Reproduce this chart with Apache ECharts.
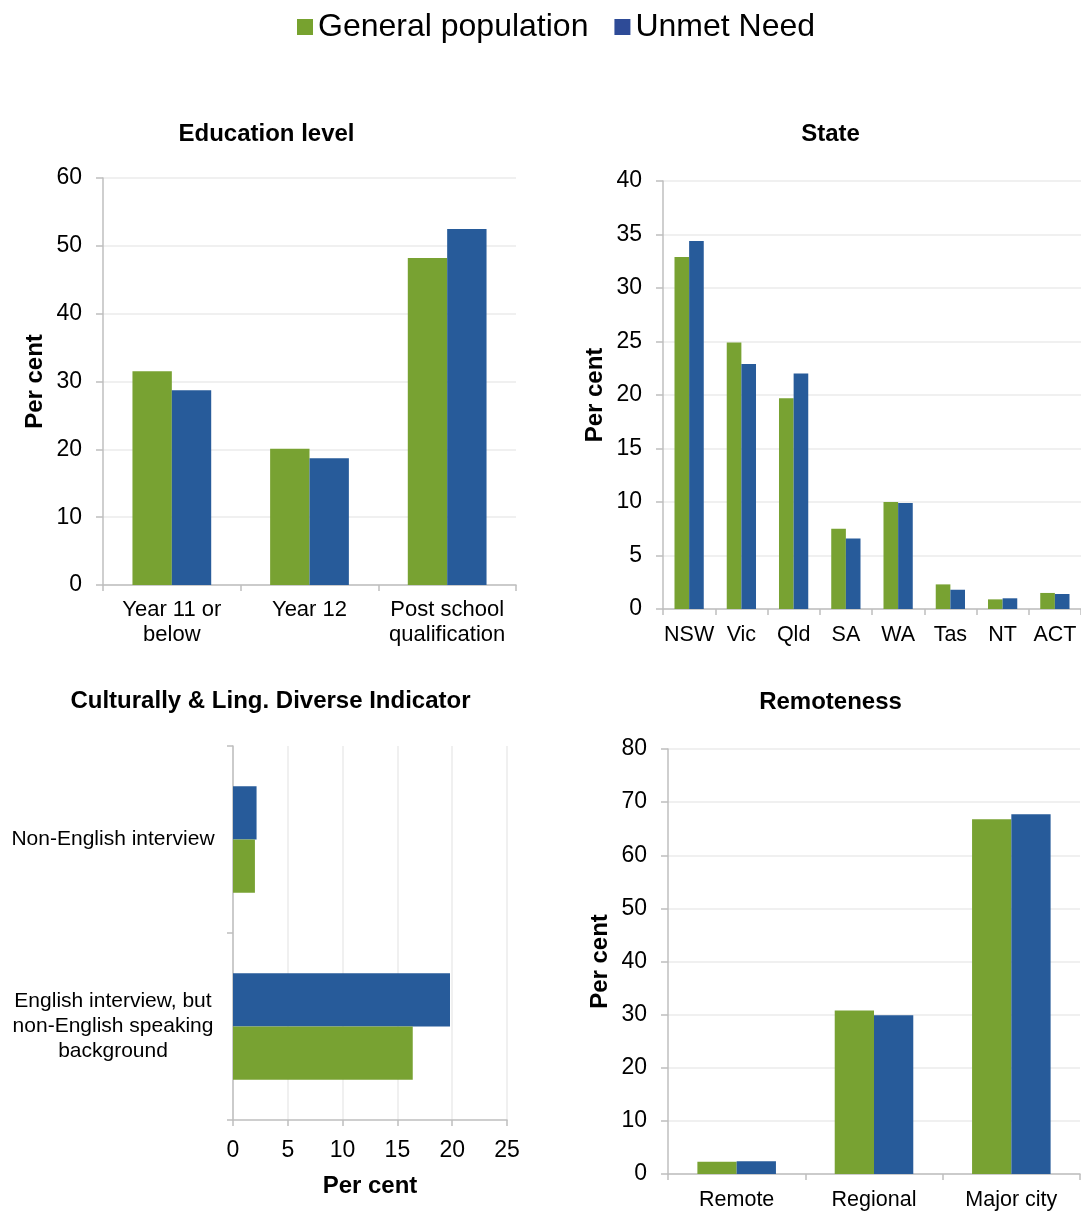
<!DOCTYPE html>
<html>
<head>
<meta charset="utf-8">
<script src="https://cdn.jsdelivr.net/npm/echarts@6/dist/echarts.min.js"></script>
<style>
  html, body { margin: 0; padding: 0; background: #ffffff; }
  #chart { width: 1081px; height: 1213px; }
</style>
</head>
<body>
<div id="chart"></div>
<script>
// Series names
const seriesNames = ['General population', 'Unmet Need'];

// Education level
const educationCats = ['Year 11 or\nbelow', 'Year 12', 'Post school\nqualification'];
const educationGeneral = [31.5, 20.1, 48.2];
const educationUnmet = [28.7, 18.7, 52.5];

// State
const stateCats = ['NSW', 'Vic', 'Qld', 'SA', 'WA', 'Tas', 'NT', 'ACT'];
const stateGeneral = [32.9, 24.9, 19.7, 7.5, 10.0, 2.3, 0.9, 1.5];
const stateUnmet = [34.4, 22.9, 22.0, 6.6, 9.9, 1.8, 1.0, 1.4];

// Culturally & linguistically diverse indicator (bottom to top)
const caldCats = ['English interview, but\nnon-English speaking\nbackground', 'Non-English interview'];
const caldGeneral = [16.4, 2.0];
const caldUnmet = [19.8, 2.15];

// Remoteness
const remoteCats = ['Remote', 'Regional', 'Major city'];
const remoteGeneral = [2.3, 30.8, 66.8];
const remoteUnmet = [2.4, 29.9, 67.7];

const FONT = '"Liberation Sans", Arial, Helvetica, sans-serif';
const GREEN = '#78A232';
const BLUE = '#275B9A';
const AXIS = '#BFBFBF';
const GRID = '#EBEBEB';
const VALUE_FONT = 23;
const BOLD_FONT = 24;

const chart = echarts.init(document.getElementById('chart'), null, { renderer: 'canvas' });

function panelTitle(text, cx, cy) {
  return {
    text: text, left: cx, top: cy, padding: 0,
    textAlign: 'center', textVerticalAlign: 'middle',
    textStyle: { fontFamily: FONT, fontSize: BOLD_FONT, fontWeight: 'bold', color: '#000' }
  };
}

function categoryAxis(gridIndex, data, fontSize, margin, extraLabel) {
  return {
    type: 'category', gridIndex: gridIndex, data: data,
    axisLine: { show: true, lineStyle: { color: AXIS, width: 1.5 } },
    axisTick: { show: true, alignWithLabel: false, length: 6, lineStyle: { color: AXIS, width: 1.5 } },
    axisLabel: Object.assign({
      color: '#000', fontFamily: FONT, fontSize: fontSize, lineHeight: 25, margin: margin, interval: 0
    }, extraLabel || {}),
    splitLine: { show: false }
  };
}

function valueAxis(gridIndex, max, interval, extra) {
  return Object.assign({
    type: 'value', gridIndex: gridIndex, min: 0, max: max, interval: interval,
    axisLine: { show: true, lineStyle: { color: AXIS, width: 1.5 } },
    axisTick: { show: true, length: 7, lineStyle: { color: AXIS, width: 1.5 } },
    axisLabel: { color: '#000', fontFamily: FONT, fontSize: VALUE_FONT, margin: 21 },
    splitLine: { show: true, lineStyle: { color: GRID, width: 1.5 } }
  }, extra || {});
}

const perCentName = {
  name: 'Per cent', nameLocation: 'middle',
  nameTextStyle: { fontFamily: FONT, fontSize: BOLD_FONT, fontWeight: 'bold', color: '#000' }
};

function bar(name, xi, yi, values, color, width) {
  return {
    type: 'bar', name: name, xAxisIndex: xi, yAxisIndex: yi, data: values,
    barWidth: width, barGap: '0%', animation: false,
    itemStyle: { color: color }
  };
}

function barPair(xi, yi, gen, unmet, width) {
  return [
    bar(seriesNames[0], xi, yi, gen, GREEN, width),
    bar(seriesNames[1], xi, yi, unmet, BLUE, width)
  ];
}

const option = {
  backgroundColor: '#ffffff',
  animation: false,
  title: [
    panelTitle('Education level', 266.5, 134),
    panelTitle('State', 830.5, 134),
    panelTitle('Culturally & Ling. Diverse Indicator', 270.5, 701),
    panelTitle('Remoteness', 830.5, 702)
  ],
  legend: {
    left: 297, top: 11, padding: 0,
    icon: 'rect', itemWidth: 16, itemHeight: 16, itemGap: 26,
    textStyle: { fontFamily: FONT, fontSize: 32, color: '#000' },
    data: [
      { name: seriesNames[0], itemStyle: { color: '#77A22F' } },
      { name: seriesNames[1], itemStyle: { color: '#2E4B97' } }
    ]
  },
  grid: [
    { left: 103, top: 178, width: 413, height: 407 },
    { left: 663, top: 181, width: 422, height: 428 },
    { left: 233, top: 746, width: 274, height: 374 },
    { left: 668, top: 749, width: 412, height: 428 }
  ],
  xAxis: [
    categoryAxis(0, educationCats, 22, 12),
    categoryAxis(1, stateCats, 21.5, 14),
    valueAxis(2, 25, 5, Object.assign({}, perCentName, {
      nameGap: 54,
      axisTick: { show: true, length: 6, lineStyle: { color: AXIS, width: 1.5 } },
      axisLabel: { color: '#000', fontFamily: FONT, fontSize: VALUE_FONT, margin: 19 }
    })),
    categoryAxis(3, remoteCats, 21.5, 14)
  ],
  yAxis: [
    valueAxis(0, 60, 10, Object.assign({ nameGap: 56 }, perCentName)),
    valueAxis(1, 40, 5, Object.assign({ nameGap: 56 }, perCentName)),
    categoryAxis(2, caldCats, 21, 120, { align: 'center' }),
    valueAxis(3, 80, 10, Object.assign({ nameGap: 56 }, perCentName))
  ],
  series: [].concat(
    barPair(0, 0, educationGeneral, educationUnmet, '28.6%'),
    barPair(1, 1, stateGeneral, stateUnmet, '28%'),
    // horizontal bars stack top-down in series order, so Unmet Need goes first to sit above
    [
      bar(seriesNames[1], 2, 2, caldUnmet, BLUE, '28.5%'),
      bar(seriesNames[0], 2, 2, caldGeneral, GREEN, '28.5%')
    ],
    barPair(3, 3, remoteGeneral, remoteUnmet, '28.6%')
  )
};

chart.setOption(option);
</script>
</body>
</html>
